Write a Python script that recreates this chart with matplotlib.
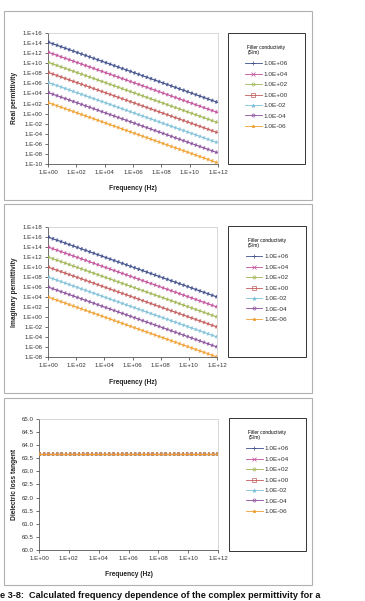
import matplotlib
matplotlib.use("Agg")
import matplotlib.pyplot as plt
from matplotlib.lines import Line2D
from matplotlib.patches import Rectangle
from matplotlib.ticker import FixedLocator, FuncFormatter
import math

plt.rcParams['font.family'] = ['Liberation Sans', 'DejaVu Sans']

# filler conductivity (S/m) series labels
labels = ['1.0E+06', '1.0E+04', '1.0E+02', '1.0E+00', '1.0E-02', '1.0E-04', '1.0E-06']
colors = ['#3d4d8a', '#c2509a', '#9fb552', '#c45a5a', '#7fc1d8', '#8a4f9b', '#f0a030']
markers = ['+', 'x', 'o', 's', '^', 'o', '*']

# frequency points (Hz) read at the axis ends and middle
freq = [1e0, 1e6, 1e12]

# real permittivity, one list per conductivity
real_perm = [
    [1.57e14, 1.57e8, 1.57e2],
    [1.57e12, 1.57e6, 1.57e0],
    [1.57e10, 1.57e4, 1.57e-2],
    [1.57e8, 1.57e2, 1.57e-4],
    [1.57e6, 1.57e0, 1.57e-6],
    [1.57e4, 1.57e-2, 1.57e-8],
    [1.57e2, 1.57e-4, 1.57e-10],
]

# imaginary permittivity
imag_perm = [
    [1e16, 1e10, 1e4],
    [1e14, 1e8, 1e2],
    [1e12, 1e6, 1e0],
    [1e10, 1e4, 1e-2],
    [1e8, 1e2, 1e-4],
    [1e6, 1e0, 1e-6],
    [1e4, 1e-2, 1e-8],
]

# dielectric loss tangent (same for all)
loss_tan = [
    [63.66, 63.66, 63.66],
    [63.66, 63.66, 63.66],
    [63.66, 63.66, 63.66],
    [63.66, 63.66, 63.66],
    [63.66, 63.66, 63.66],
    [63.66, 63.66, 63.66],
    [63.66, 63.66, 63.66],
]

W, H = 365, 601
fig = plt.figure(figsize=(W / 100, H / 100), dpi=100)


def box(x0, y0, x1, y1):
    # pixel coords (top-left origin) -> figure fraction
    return [x0 / W, 1 - y1 / H, (x1 - x0) / W, (y1 - y0) / H]


def sci(v, pos):
    e = int(round(math.log10(v)))
    return '1.E%s%02d' % ('+' if e >= 0 else '-', abs(e))


def panel(frame, plot_px, leg_px, data, ylabel, log_y, yticks, xlabel_y, ylabel_x):
    # outer gray frame
    x0, y0, x1, y1 = frame
    fig.patches.append(Rectangle((x0 / W, 1 - y1 / H), (x1 - x0) / W, (y1 - y0) / H,
                                 transform=fig.transFigure, fill=False,
                                 edgecolor='#b0b0b0', lw=0.8))
    ax = fig.add_axes(box(*plot_px))
    for vals, c in zip(data, colors):
        ax.plot(freq, vals, color=c, lw=0.8, zorder=3)
        ax.plot(freq, vals, color=c, lw=2.6, dashes=(0.5, 0.7), alpha=0.75, zorder=3)
    ax.set_xscale('log')
    ax.set_xlim(1e0, 1e12)
    ax.xaxis.set_major_locator(FixedLocator([10.0 ** k for k in range(0, 13, 2)]))
    ax.xaxis.set_minor_locator(FixedLocator([]))
    ax.xaxis.set_major_formatter(FuncFormatter(sci))
    if log_y:
        ax.set_yscale('log')
        ax.set_ylim(yticks[0], yticks[-1])
        ax.yaxis.set_major_locator(FixedLocator(yticks))
        ax.yaxis.set_minor_locator(FixedLocator([]))
        ax.yaxis.set_major_formatter(FuncFormatter(sci))
    else:
        ax.set_ylim(yticks[0], yticks[-1])
        ax.set_yticks(yticks)
        ax.yaxis.set_major_formatter(FuncFormatter(lambda v, p: '%.1f' % v))
    ax.tick_params(labelsize=4.4, length=2, width=0.5, colors='#333333', pad=2)
    for s in ['top', 'right']:
        ax.spines[s].set_color('#c8c8c8')
        ax.spines[s].set_linewidth(0.5)
    for s in ['left', 'bottom']:
        ax.spines[s].set_color('#555555')
        ax.spines[s].set_linewidth(0.6)
    fig.text((plot_px[0] + plot_px[2]) / 2 / W, 1 - xlabel_y / H, 'Frequency (Hz)',
             ha='center', va='center', fontsize=4.8, fontweight='bold', color='#222222')
    fig.text(ylabel_x / W, 1 - (plot_px[1] + plot_px[3]) / 2 / H, ylabel,
             ha='center', va='center', rotation=90, fontsize=4.8,
             fontweight='bold', color='#222222')

    # legend box
    lx0, ly0, lx1, ly1 = leg_px
    fig.patches.append(Rectangle((lx0 / W, 1 - ly1 / H), (lx1 - lx0) / W, (ly1 - ly0) / H,
                                 transform=fig.transFigure, fill=False,
                                 edgecolor='#333333', lw=0.7))
    handles = [Line2D([], [], color=c, marker=m, markersize=2.2, lw=0.6,
                      markerfacecolor='none' if m in ('s', 'o') else c, markeredgewidth=0.5)
               for c, m in zip(colors, markers)]
    lax = fig.add_axes(box(lx0 + 2, ly0 + 9, lx1 - 2, ly0 + 100))
    lax.axis('off')
    leg = lax.legend(handles, labels, loc='upper center', frameon=False,
                     title='Filler conductivity\n(S/m)', title_fontsize=3.5,
                     fontsize=4.6, handlelength=2.6, labelspacing=0.78,
                     handletextpad=0.3, borderaxespad=0.0)
    leg._legend_box.sep = 4
    for t in leg.get_texts():
        t.set_color('#333333')
    return ax


panel((4, 11, 312, 200), (48, 33, 218, 164), (228, 33, 305, 164),
      real_perm, 'Real permittivity', True, [10.0 ** k for k in range(-10, 17, 2)], 189, 15)
panel((4, 204, 312, 393), (48, 227, 217, 357), (228, 226, 306, 357),
      imag_perm, 'Imaginary permittivity', True, [10.0 ** k for k in range(-8, 19, 2)], 382, 15)
panel((4, 398, 312, 585), (39, 419, 218, 550), (229, 418, 306, 551),
      loss_tan, 'Dielectric loss tangent', False,
      [60.0, 60.5, 61.0, 61.5, 62.0, 62.5, 63.0, 63.5, 64.0, 64.5, 65.0], 575, 14)

fig.text(0.0, 1 - 596 / H, 'e 3-8:  Calculated frequency dependence of the complex permittivity for a',
         ha='left', va='center', fontsize=6.6, fontweight='bold', color='#111111')

fig.savefig('out.png', dpi=100)
